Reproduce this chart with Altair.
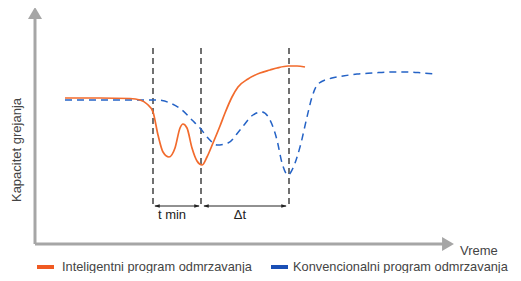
import altair as alt
import pandas as pd

# Coordinates are in the reference picture's own frame (x to the right, y downward)
orange_x = [65, 100, 130, 140, 147, 153, 158, 163, 169, 175, 180, 183, 187, 192, 197, 202, 207, 213, 220, 225, 232, 238, 248, 260, 270, 277, 288, 297, 305]
orange_y = [98, 98, 98.5, 100, 104, 112, 135, 152, 157, 148, 128, 124, 128, 148, 161, 165, 157, 143, 126, 113, 97, 87, 79, 73, 70, 68, 66, 66, 67]

blue_x = [65, 100, 155, 162, 170, 182, 192, 200, 208, 217, 228, 240, 253, 262, 270, 277, 282, 288, 293, 300, 307, 312, 318, 332, 343, 357, 373, 390, 407, 423, 437]
blue_y = [100, 100, 100, 100.5, 103, 110, 120, 128, 138, 145, 143, 130, 115, 112, 120, 140, 163, 175, 168, 147, 117, 97, 84, 78, 76, 74, 73, 72, 72, 73, 74]

marker_x = [153, 201, 289]
marker_top = 48
marker_bottom = 207

interval_start = [155, 204]
interval_end = [199, 286]
interval_y = 206
interval_labels = ["t min", "Δt"]
interval_label_x = [172, 240]
interval_label_y = 215

axis_origin = (35, 244)
axis_y_top = 19
axis_x_right = 443

x_title = "Vreme"
y_title = "Kapacitet grejanja"

legend_labels = ["Inteligentni program odmrzavanja", "Konvencionalni program odmrzavanja"]
legend_swatch_x = [37, 271]
legend_swatch_x2 = [54, 288]
legend_text_x = [62, 293]
legend_y = 267

ORANGE = "#f26b2d"
BLUE = "#2563c6"
FONT = "Liberation Sans"

W, H = 505, 265
xs = alt.Scale(domain=[8, 8 + W], nice=False, zero=False)
ys = alt.Scale(domain=[8, 8 + H], nice=False, zero=False, reverse=True)

def X(f="x"):
    return alt.X(f"{f}:Q", scale=xs, axis=None)

def Y(f="y"):
    return alt.Y(f"{f}:Q", scale=ys, axis=None)

orange_df = pd.DataFrame({"x": orange_x, "y": orange_y})
blue_df = pd.DataFrame({"x": blue_x, "y": blue_y})

axes_df = pd.DataFrame({
    "x": [axis_origin[0], axis_origin[0]],
    "y": [axis_y_top, axis_origin[1]],
    "x2": [axis_origin[0], axis_x_right],
    "y2": [axis_origin[1], axis_origin[1]],
})
axes = alt.Chart(axes_df).mark_rule(color="#a6a6a6", strokeWidth=3).encode(
    x=X(), y=Y(), x2="x2:Q", y2="y2:Q")

up_head = alt.Chart(pd.DataFrame({"x": [axis_origin[0]], "y": [axis_y_top - 6]})).mark_point(
    shape="M-1,0.85L0,-0.85L1,0.85Z", size=196, filled=True, color="#a6a6a6", opacity=1
).encode(x=X(), y=Y())
right_head = alt.Chart(pd.DataFrame({"x": [axis_x_right + 5], "y": [axis_origin[1]]})).mark_point(
    shape="M-0.85,-1L0.85,0L-0.85,1Z", size=196, filled=True, color="#a6a6a6", opacity=1
).encode(x=X(), y=Y())

markers = alt.Chart(pd.DataFrame({"x": marker_x, "y": [marker_top] * 3, "y2": [marker_bottom] * 3})).mark_rule(
    color="#707070", strokeWidth=2, strokeDash=[6, 4]
).encode(x=X(), y=Y(), y2="y2:Q")

iv_df = pd.DataFrame({"x": interval_start, "x2": interval_end, "y": [interval_y] * 2})
intervals = alt.Chart(iv_df).mark_rule(color="#222222", strokeWidth=1).encode(x=X(), x2="x2:Q", y=Y())
left_heads = alt.Chart(pd.DataFrame({"x": [s + 2 for s in interval_start], "y": [interval_y] * 2})).mark_point(
    shape="M1,-0.6L-1,0L1,0.6Z", size=30, filled=True, color="#222222", opacity=1).encode(x=X(), y=Y())
right_heads = alt.Chart(pd.DataFrame({"x": [e - 2 for e in interval_end], "y": [interval_y] * 2})).mark_point(
    shape="M-1,-0.6L1,0L-1,0.6Z", size=30, filled=True, color="#222222", opacity=1).encode(x=X(), y=Y())

iv_text = alt.Chart(pd.DataFrame({"x": interval_label_x, "y": [interval_label_y] * 2, "t": interval_labels})).mark_text(
    font=FONT, fontSize=13, color="#222222", align="center", baseline="middle"
).encode(x=X(), y=Y(), text="t:N")

orange = alt.Chart(orange_df).mark_line(color=ORANGE, strokeWidth=1.7, interpolate="monotone").encode(
    x=X(), y=Y(), order="x:Q")
blue = alt.Chart(blue_df).mark_line(color=BLUE, strokeWidth=1.5, strokeDash=[7, 5], interpolate="monotone").encode(
    x=X(), y=Y(), order="x:Q")

xt = alt.Chart(pd.DataFrame({"x": [460], "y": [251], "t": [x_title]})).mark_text(
    font=FONT, fontSize=13, color="#444444", align="left", baseline="middle").encode(x=X(), y=Y(), text="t:N")
yt = alt.Chart(pd.DataFrame({"x": [17], "y": [150], "t": [y_title]})).mark_text(
    font=FONT, fontSize=13, color="#444444", align="center", baseline="middle", angle=270).encode(x=X(), y=Y(), text="t:N")

sw = alt.Chart(pd.DataFrame({"x": legend_swatch_x, "x2": legend_swatch_x2, "y": [legend_y] * 2, "c": legend_labels})).mark_rule(
    strokeWidth=4).encode(x=X(), x2="x2:Q", y=Y(),
    color=alt.Color("c:N", scale=alt.Scale(domain=legend_labels, range=["#f05a22", "#1a4fb5"]), legend=None))
lt = alt.Chart(pd.DataFrame({"x": legend_text_x, "y": [legend_y] * 2, "t": legend_labels})).mark_text(
    font=FONT, fontSize=12.8, color="#444444", align="left", baseline="middle").encode(x=X(), y=Y(), text="t:N")

chart = alt.layer(axes, up_head, right_head, markers, intervals, left_heads, right_heads, iv_text,
                  blue, orange, xt, yt, sw, lt).properties(
    width=W, height=H, autosize=alt.AutoSizeParams(type="none"), padding=0
).configure_view(stroke=None)

chart.save("out.html", embed_options={"renderer": "svg", "actions": False})
